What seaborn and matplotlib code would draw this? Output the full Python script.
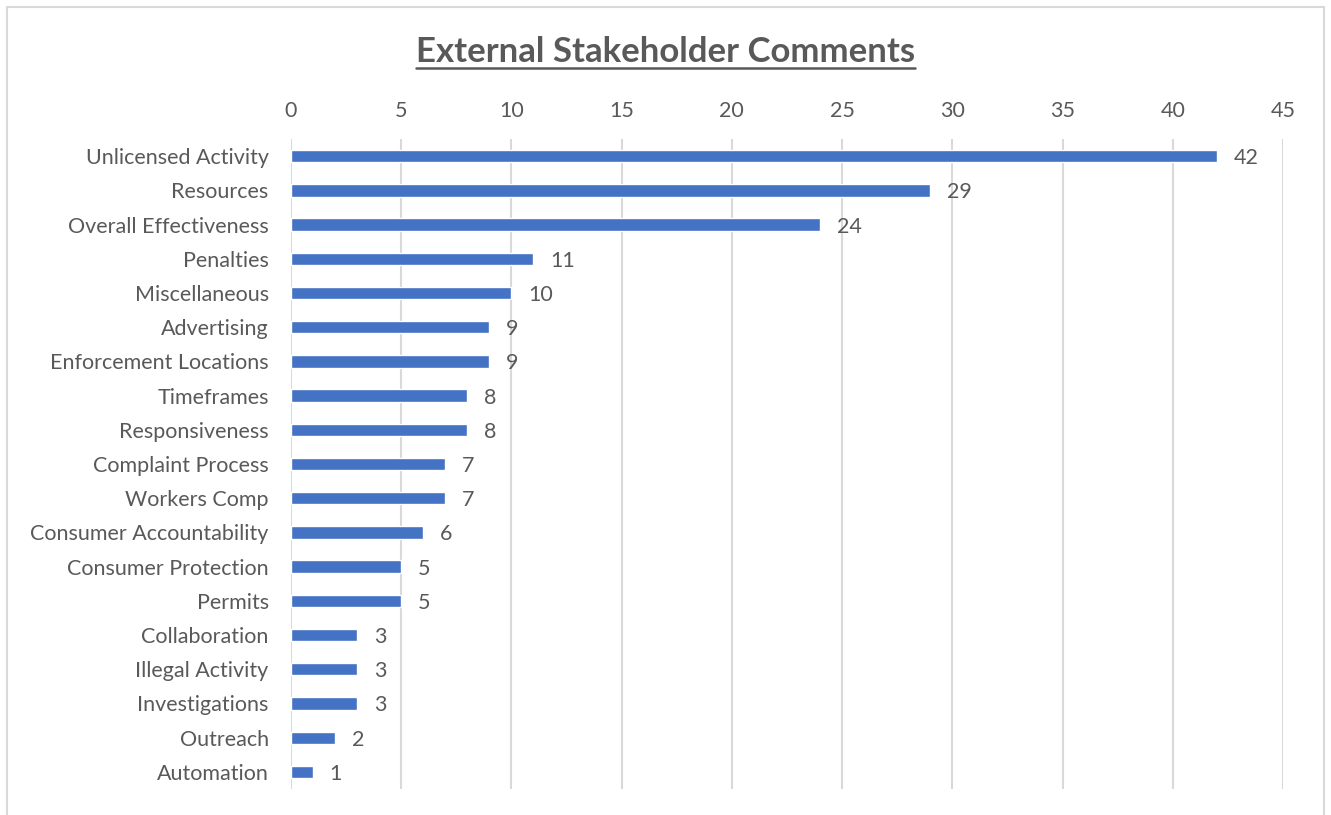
import matplotlib
matplotlib.use("Agg")
import matplotlib.pyplot as plt
from matplotlib.lines import Line2D
from matplotlib.patches import Rectangle
import seaborn as sns
import pandas as pd

categories = [
    "Unlicensed Activity", "Resources", "Overall Effectiveness", "Penalties",
    "Miscellaneous", "Advertising", "Enforcement Locations", "Timeframes",
    "Responsiveness", "Complaint Process", "Workers Comp", "Consumer Accountability",
    "Consumer Protection", "Permits", "Collaboration", "Illegal Activity",
    "Investigations", "Outreach", "Automation",
]
counts = [42, 29, 24, 11, 10, 9, 9, 8, 8, 7, 7, 6, 5, 5, 3, 3, 3, 2, 1]
x_ticks = [0, 5, 10, 15, 20, 25, 30, 35, 40, 45]
title = "External Stakeholder Comments"

df = pd.DataFrame({"category": categories, "count": counts})

sns.set_theme(style="white")
plt.rcParams["font.family"] = ["Lato", "DejaVu Sans"]

TEXT = "#595959"
GRID = "#D9D9D9"
BAR = "#4472C4"

fig = plt.figure(figsize=(13.31, 8.15), dpi=100)
ax = fig.add_axes([0.2186, 0.0319, 0.7453, 0.7975])

sns.barplot(data=df, x="count", y="category", orient="h", color=BAR,
            width=0.36, saturation=1, ax=ax, order=categories)

ax.set_xlim(0, 45)
ax.set_ylim(len(categories) - 0.5, -0.5)
ax.set_xticks(x_ticks)
ax.xaxis.tick_top()
ax.tick_params(axis="x", length=0, pad=13, labelsize=15.5, labelcolor=TEXT)
ax.tick_params(axis="y", length=0, pad=16, labelsize=15.5, labelcolor=TEXT)
ax.set_xlabel("")
ax.set_ylabel("")
for s in ax.spines.values():
    s.set_visible(False)
ax.grid(axis="x", color=GRID, linewidth=1.5)
ax.set_axisbelow(True)

for c in ax.containers:
    texts = ax.bar_label(c, labels=[str(v) for v in counts], padding=12,
                         fontsize=15.5, color=TEXT)
    for tx in texts:
        tx.set_va("center_baseline")

t = fig.text(0.5, 1 - 62 / 815, title, ha="center", va="baseline",
             fontsize=25, fontweight="bold", color=TEXT)

fig.canvas.draw()
bb = t.get_window_extent().transformed(fig.transFigure.inverted())
y_ul = 1 - 68 / 815
fig.add_artist(Line2D([bb.x0, bb.x1], [y_ul, y_ul],
                      transform=fig.transFigure, color=TEXT, linewidth=1.8))

# outer frame of the chart area
fig.add_artist(Rectangle((7 / 1331, -0.01), (1324 - 7) / 1331, 1.01 - 7 / 815,
                         transform=fig.transFigure, fill=False,
                         edgecolor="#D9D9D9", linewidth=1.5))

fig.savefig("out.png", dpi=100)
